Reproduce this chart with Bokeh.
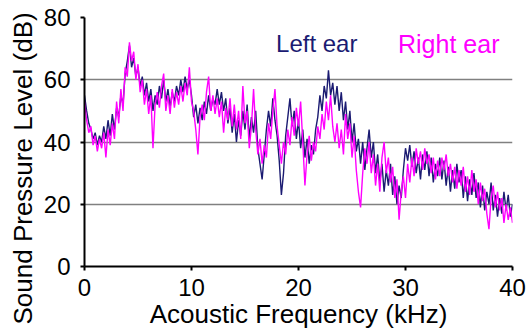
from bokeh.plotting import figure
from bokeh.models import Range1d, Label, FixedTicker, Title
from bokeh.embed import file_html
from bokeh.resources import INLINE

# Frequency grid (kHz), 0.2 kHz steps
freq = [round(0.2 * i, 1) for i in range(201)]

left_ear = [
    55, 50, 46, 44, 41, 43, 39, 42, 40, 45,
    41, 47, 42, 49, 44, 51, 48, 55, 52, 62,
    66, 71, 64, 67, 61, 64, 58, 61, 55, 59,
    53, 57, 50, 55, 52, 58, 54, 60, 53, 57,
    51, 56, 53, 58, 55, 60, 56, 61, 57, 60,
    55, 48, 52, 46, 51, 47, 53, 49, 55, 50,
    54, 52, 57, 52, 56, 50, 54, 46, 51, 43,
    49, 40, 47, 42, 50, 44, 52, 41, 48, 43,
    50, 38, 33, 28, 36, 44, 50, 45, 54, 47,
    42, 34, 23, 30, 42, 48, 54, 45, 50, 41,
    47, 38, 44, 35, 41, 33, 39, 36, 44, 48,
    55, 50, 58, 54, 63, 55, 59, 52, 58, 50,
    56, 47, 53, 44, 50, 40, 46, 37, 41, 33,
    40, 31, 38, 44, 35, 40, 30, 36, 27, 33,
    24, 31, 26, 33, 23, 29, 20, 26, 22, 31,
    38, 34, 39, 32, 37, 30, 35, 28, 36, 31,
    37, 29, 35, 27, 33, 29, 35, 28, 34, 26,
    32, 24, 31, 25, 33, 27, 31, 22, 29, 21,
    28, 23, 30, 22, 27, 19, 26, 18, 24, 20,
    27, 18, 23, 16, 22, 17, 24, 18, 23, 16,
    20,
]

right_ear = [
    53, 47, 43, 45, 39, 42, 37, 41, 38, 43,
    35, 44, 39, 46, 41, 53, 46, 57, 50, 64,
    61, 72, 66, 69, 60, 65, 56, 60, 52, 57,
    49, 55, 38, 52, 56, 51, 58, 62, 50, 55,
    49, 57, 51, 56, 52, 58, 53, 59, 55, 64,
    53, 50, 44, 36, 48, 52, 47, 56, 61, 50,
    55, 49, 54, 48, 53, 43, 51, 47, 54, 45,
    52, 44, 50, 41, 58, 46, 50, 38, 45, 57,
    44, 36, 41, 33, 39, 35, 46, 41, 50, 57,
    45, 39, 33, 40, 36, 44, 39, 48, 42, 51,
    45, 53, 40, 26, 36, 42, 34, 40, 37, 45,
    41, 49, 44, 53, 47, 55, 45, 40, 46, 38,
    44, 36, 49, 41, 46, 35, 42, 31, 24, 19,
    30, 38, 33, 40, 30, 36, 26, 33, 24, 35,
    40, 30, 35, 27, 32, 22, 28, 15, 24, 29,
    22, 33, 27, 35, 29, 38, 33, 37, 31, 38,
    33, 36, 30, 35, 28, 34, 29, 35, 31, 36,
    29, 33, 27, 32, 25, 31, 26, 32, 24, 29,
    23, 31, 24, 28, 20, 27, 21, 25, 17, 12,
    22, 26, 19, 24, 18, 22, 14, 20, 15, 19,
    14,
]

x_ticks = [0, 10, 20, 30, 40]
y_ticks = [0, 20, 40, 60, 80]
grid_levels = [20, 40, 60]

FONT = "Liberation Sans"
NAVY = "#1b1b72"
MAGENTA = "#ff00ff"

p = figure(width=527, height=333, output_backend="svg", toolbar_location=None,
           x_range=Range1d(0, 40), y_range=Range1d(0, 80),
           min_border_left=84, min_border_right=15, min_border_top=17,
           min_border_bottom=67)
p.outline_line_color = None
p.background_fill_color = "white"
p.border_fill_color = "white"

p.line(freq, left_ear, line_color=NAVY, line_width=1.4)
p.line(freq, right_ear, line_color=MAGENTA, line_width=1.4)

p.xaxis.ticker = FixedTicker(ticks=x_ticks)
p.yaxis.ticker = FixedTicker(ticks=y_ticks)
p.xgrid.grid_line_color = None
p.ygrid.ticker = FixedTicker(ticks=grid_levels)
p.ygrid.grid_line_color = "#808080"
p.ygrid.grid_line_width = 1.5

for ax in (p.xaxis, p.yaxis):
    ax.axis_line_color = "black"
    ax.axis_line_width = 2
    ax.major_tick_line_color = "black"
    ax.major_tick_line_width = 2
    ax.major_tick_in = 0
    ax.major_tick_out = 4
    ax.minor_tick_line_color = None
    ax.major_label_text_font = FONT
    ax.major_label_text_font_size = "24px"
    ax.major_label_text_color = "black"
    ax.axis_label_text_font = FONT
    ax.axis_label_text_font_size = "26px"
    ax.axis_label_text_font_style = "normal"
    ax.axis_label_text_color = "black"

p.xaxis.axis_label = "Acoustic Frequency (kHz)"
p.xaxis.major_label_standoff = 8
p.yaxis.major_label_standoff = 10
p.xaxis.axis_label_standoff = 0

# y-axis title as a side-panel title so it can sit lower, as in the original
p.add_layout(Title(text="Sound Pressure Level (dB)", align="left", offset=-58,
                   vertical_align="middle", text_font=FONT, text_font_size="26px",
                   text_font_style="normal", text_color="black", standoff=4),
             "left")

p.add_layout(Label(x=17.9, y=71.6, text="Left ear", text_color=NAVY,
                   text_font=FONT, text_font_size="24px", text_baseline="middle"))
p.add_layout(Label(x=29.3, y=71.6, text="Right ear", text_color=MAGENTA,
                   text_font=FONT, text_font_size="25px", text_baseline="middle"))

open("out.html", "w").write(file_html(p, INLINE))
